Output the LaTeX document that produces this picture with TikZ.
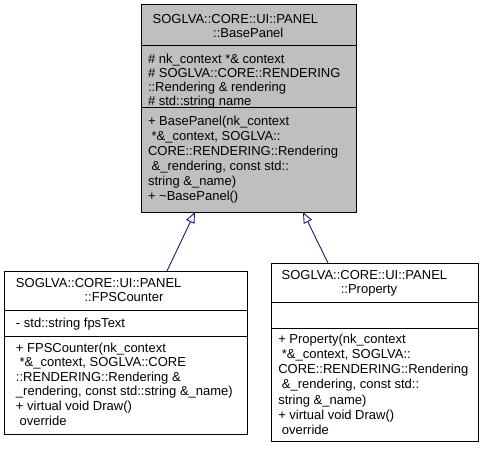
\documentclass[tikz,border=0pt]{standalone}
\usepackage{fontspec}
\setmainfont{Liberation Sans}
\usetikzlibrary{arrows.meta}
\definecolor{boxgray}{HTML}{BFBFBF}
\definecolor{inhblue}{HTML}{191970}
\begin{document}
\begin{tikzpicture}[x=1pt,y=-1pt,
  classbox/.style={draw=black, line width=1pt, inner sep=0pt, outer sep=0pt, rectangle},
  divider/.style={draw=black, line width=1pt},
  txt/.style={inner sep=0pt, outer sep=0pt, align=left, text=black},
  f14/.style={font=\fontsize{13}{14}\selectfont},
  f15/.style={font=\fontsize{13}{15}\selectfont},
  f146/.style={font=\fontsize{13}{14.6}\selectfont},
  f153/.style={font=\fontsize{13}{15.3}\selectfont},
  inh/.style={draw=inhblue, line width=0.9pt, -{Triangle[open, length=11pt, width=9pt]}},
]
\useasboundingbox (0,0) rectangle (485,448);

% ---- BasePanel
\node[classbox, fill=boxgray, minimum width=215pt, minimum height=208pt] (base) at (248.5,108) {};
\draw[divider] (base.west |- 0,45) -- (base.east |- 0,45);
\draw[divider] (base.west |- 0,107) -- (base.east |- 0,107);
\node[txt, f15, anchor=base west] (baseh1) at (152.7,23) {SOGLVA::CORE::UI::PANEL};
\node[txt, f15, anchor=base] (baseh2) at (248.3,37) {::BasePanel};
\node[txt, f14, anchor=north west] (basea) at (148,53.6)
  {\# nk\_context *\& context\\
   \# SOGLVA::CORE::RENDERING\\
   ::Rendering \& rendering\\
   \# std::string name};
\node[txt, f15, anchor=north west] (basem) at (148,115.6)
  {+ BasePanel(nk\_context\\
   \ *\&\_context, SOGLVA::\\
   CORE::RENDERING::Rendering\\
   \ \&\_rendering, const std::\\
   string \&\_name)\\
   + \textasciitilde BasePanel()};

% ---- FPSCounter
\node[classbox, fill=white, minimum width=243pt, minimum height=163pt] (fps) at (125.5,352.5) {};
\draw[divider] (fps.west |- 0,310) -- (fps.east |- 0,310);
\draw[divider] (fps.west |- 0,336) -- (fps.east |- 0,336);
\node[txt, f15, anchor=base west] (fpsh1) at (16,287) {SOGLVA::CORE::UI::PANEL};
\node[txt, f15, anchor=base] (fpsh2) at (124,301) {::FPSCounter};
\node[txt, f15, anchor=north west] (fpsa) at (16,317.6) {- std::string fpsText};
\node[txt, f146, anchor=north west] (fpsm) at (16,342.6)
  {+ FPSCounter(nk\_context\\
   \ *\&\_context, SOGLVA::CORE\\
   ::RENDERING::Rendering \&\\
   \_rendering, const std::string \&\_name)\\
   + virtual void Draw()\\
   \ override};

% ---- Property
\node[classbox, fill=white, minimum width=207pt, minimum height=178pt] (prop) at (374.5,352) {};
\draw[divider] (prop.west |- 0,302) -- (prop.east |- 0,302);
\draw[divider] (prop.west |- 0,328) -- (prop.east |- 0,328);
\node[txt, f15, anchor=base west] (proph1) at (281.7,279) {SOGLVA::CORE::UI::PANEL};
\node[txt, f15, anchor=base] (proph2) at (369,293) {::Property};
\node[txt, f153, anchor=north west] (propm) at (278.3,333.6)
  {+ Property(nk\_context\\
   \ *\&\_context, SOGLVA::\\
   CORE::RENDERING::Rendering\\
   \ \&\_rendering, const std::\\
   string \&\_name)\\
   + virtual void Draw()\\
   \ override};

% ---- inheritance
\draw[inh] ([xshift=41.5pt]fps.north) -- ([xshift=-53.5pt]base.south);
\draw[inh] ([xshift=-46.5pt]prop.north) -- ([xshift=54.5pt]base.south);
\end{tikzpicture}
\end{document}
